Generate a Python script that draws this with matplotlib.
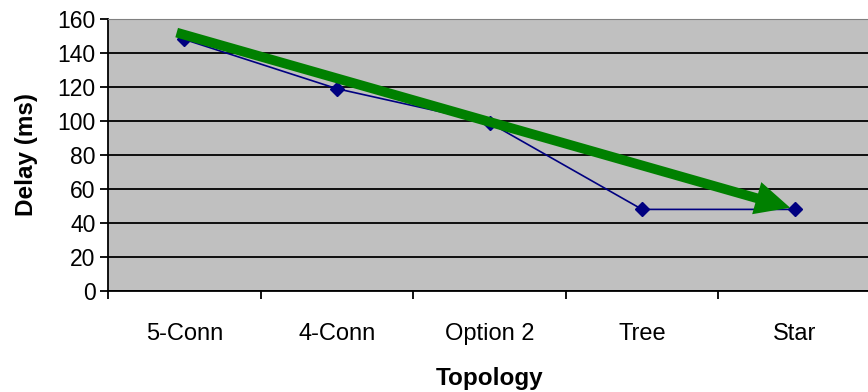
import matplotlib.pyplot as plt
import matplotlib.patches as mpatches
import numpy as np

# datos
topologias = ["5-Conn", "4-Conn", "Option 2", "Tree", "Star"]
retardo = [148, 119, 99, 48, 48]

# flecha de tendencia (inicio y fin en coordenadas de datos)
flecha_x = [-0.05, 3.97]
flecha_y = [152, 49]

plt.rcParams['font.family'] = ['Liberation Sans', 'DejaVu Sans']

fig = plt.figure(figsize=(8.68, 3.92), dpi=100)
ax = fig.add_axes([108 / 868, 1 - 291 / 392, 763 / 868, 272 / 392])
ax.set_facecolor('#c0c0c0')

x = np.arange(len(topologias))
ax.plot(x, retardo, color='#000080', linewidth=1.2, marker='D', markersize=7, zorder=3)

# flecha verde gruesa
flecha = mpatches.FancyArrowPatch((flecha_x[0], flecha_y[0]), (flecha_x[1], flecha_y[1]),
                                  arrowstyle='simple,head_length=2.5,head_width=2.4,tail_width=0.7',
                                  mutation_scale=10, color='#008000', linewidth=0,
                                  shrinkA=0, shrinkB=0, zorder=4)
ax.add_patch(flecha)

ax.set_ylim(0, 160)
ax.set_yticks(range(0, 161, 20))
ax.set_xlim(-0.5, 4.5)
ax.set_xticks(x)
ax.set_xticklabels(topologias)
ax.set_xticks(np.arange(-0.5, 5, 1), minor=True)
ax.tick_params(axis='x', which='major', length=0, pad=23, labelsize=17)
ax.tick_params(axis='x', which='minor', length=6, width=1.3, direction='out')
ax.tick_params(axis='y', length=6, width=1.3, labelsize=16.5, pad=3)

ax.grid(True, axis='y', color='black', linewidth=1.3)
ax.set_axisbelow(True)
for s in ['top', 'right']:
    ax.spines[s].set_color('#808080')
for s in ['left', 'bottom']:
    ax.spines[s].set_linewidth(1.3)

ax.set_xlabel("Topology", fontsize=17.5, fontweight='bold', labelpad=16)
ax.set_ylabel("Delay (ms)", fontsize=17.5, fontweight='bold', labelpad=14)

plt.savefig("out.png", dpi=100)
